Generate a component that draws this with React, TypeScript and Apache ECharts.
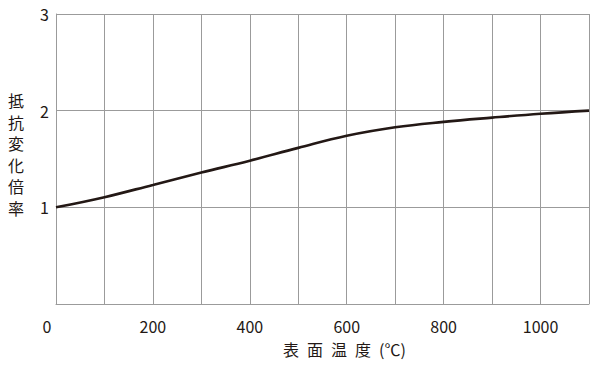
import React, { useEffect, useRef } from "react";
import * as echarts from "echarts";

const temps = [0, 100, 200, 300, 400, 500, 600, 700, 800, 900, 1000, 1100];
const ratios = [1.0, 1.105, 1.232, 1.36, 1.482, 1.615, 1.74, 1.828, 1.884, 1.928, 1.968, 2.0];
const xLabels = [0, 200, 400, 600, 800, 1000];
const yLabels = [1, 2, 3];
const xTitle = "表\u2002面\u2002温\u2002度\u2002(℃)";
const yTitle = ["抵", "抗", "変", "化", "倍", "率"];

const FONT = '"Noto Sans CJK JP", "Noto Sans", sans-serif';
const TEXT = "#231815";
const GRID = "#9b9b9b";

export default function App() {
  const ref = useRef<HTMLDivElement>(null);
  useEffect(() => {
    if (!ref.current) return;
    const chart = echarts.init(ref.current, null, { renderer: "svg" });
    chart.setOption({
      animation: false,
      backgroundColor: "#ffffff",
      textStyle: { fontFamily: FONT, color: TEXT },
      grid: { left: 56, right: 11, top: 14, bottom: 65, containLabel: false },
      xAxis: {
        type: "value",
        min: 0,
        max: 1100,
        interval: 100,
        axisLine: { show: true, lineStyle: { color: GRID, width: 1 } },
        axisTick: { show: false },
        splitLine: { show: true, lineStyle: { color: GRID, width: 1 } },
        axisLabel: {
          show: true,
          margin: 14,
          fontSize: 16,
          color: TEXT,
          fontFamily: FONT,
          showMaxLabel: true,
          formatter: (v: number) => {
            if (!xLabels.includes(v)) return "";
            return v === 0 ? "{z|0}" : String(v);
          },
          rich: {
            z: { fontSize: 16, color: TEXT, fontFamily: FONT, padding: [0, 18, 0, 0] },
          },
        },
      },
      yAxis: {
        type: "value",
        min: 0,
        max: 3,
        interval: 1,
        axisLine: { show: true, lineStyle: { color: GRID, width: 1 } },
        axisTick: { show: false },
        splitLine: { show: true, lineStyle: { color: GRID, width: 1 } },
        axisLabel: {
          margin: 7,
          fontSize: 16,
          color: TEXT,
          fontFamily: FONT,
          formatter: (v: number) => (yLabels.includes(v) ? String(v) : ""),
        },
      },
      graphic: [
        {
          type: "text",
          left: 283,
          top: 341,
          style: {
            text: xTitle,
            fontSize: 16,
            fontFamily: FONT,
            fill: TEXT,
          },
        },
        ...yTitle.map((ch, i) => ({
          type: "text",
          x: 16,
          y: 100 + i * 21.6,
          style: {
            text: ch,
            fontSize: 16,
            lineHeight: 18,
            fontFamily: FONT,
            fill: TEXT,
            align: "center",
            verticalAlign: "middle",
          },
        })),
      ],
      series: [
        {
          type: "line",
          data: temps.map((t, i) => [t, ratios[i]]),
          smooth: 0.4,
          symbol: "none",
          lineStyle: { color: "#231815", width: 2.6 },
        },
      ],
    });
    return () => chart.dispose();
  }, []);
  return <div ref={ref} style={{ width: 600, height: 369, position: "absolute", left: 0, top: 0 }} />;
}
